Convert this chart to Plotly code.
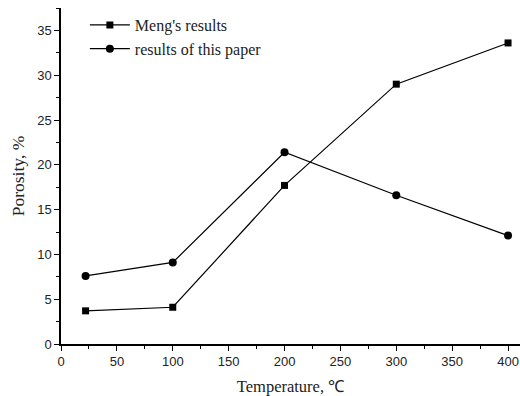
import plotly.graph_objects as go

# Temperature (°C) and porosity (%) for both data sets
temperature = [22, 100, 200, 300, 400]
meng_porosity = [3.7, 4.1, 17.7, 29.0, 33.6]
paper_porosity = [7.6, 9.1, 21.4, 16.6, 12.1]

x_ticks = [0, 50, 100, 150, 200, 250, 300, 350, 400]
y_ticks = [0, 5, 10, 15, 20, 25, 30, 35]

fig = go.Figure()
fig.add_trace(go.Scatter(
    x=temperature, y=meng_porosity, mode="lines+markers",
    name="Meng's results",
    line=dict(color="black", width=1.2),
    marker=dict(symbol="square", size=7, color="black"),
))
fig.add_trace(go.Scatter(
    x=temperature, y=paper_porosity, mode="lines+markers",
    name="results of this paper",
    line=dict(color="black", width=1.2),
    marker=dict(symbol="circle", size=8, color="black"),
))

axis_common = dict(
    showgrid=False, zeroline=False, showline=True, linecolor="black", linewidth=1.5,
    ticks="outside", ticklen=5, tickwidth=1.2, tickcolor="black",
    tickfont=dict(family="Liberation Sans, Arial", size=13, color="#222"),
)
title_font = dict(family="Liberation Serif, Times New Roman", color="#222")

fig.update_xaxes(
    range=[0, 410.7], tickvals=x_ticks,
    minor=dict(ticks="outside", ticklen=3, tickwidth=1, tickcolor="black", dtick=25, tick0=0),
    title=dict(text="Temperature, ℃", font=dict(size=16.5, **title_font), standoff=12),
    **axis_common,
)
fig.update_yaxes(
    range=[0, 37.5], tickvals=y_ticks,
    minor=dict(ticks="outside", ticklen=3, tickwidth=1, tickcolor="black", dtick=2.5, tick0=0),
    title=dict(text="Porosity, %", font=dict(size=17.5, **title_font), standoff=8),
    **axis_common,
)

fig.update_layout(
    width=520, height=396,
    margin=dict(l=61, r=0, t=8, b=52),
    paper_bgcolor="white", plot_bgcolor="white",
    showlegend=True,
    legend=dict(
        x=0.052, y=1.0, xanchor="left", yanchor="top",
        bgcolor="rgba(0,0,0,0)",
        font=dict(family="Liberation Serif, Times New Roman", size=16, color="#222"),
        tracegroupgap=0, itemwidth=40,
    ),
)

fig.write_html("out.html")
